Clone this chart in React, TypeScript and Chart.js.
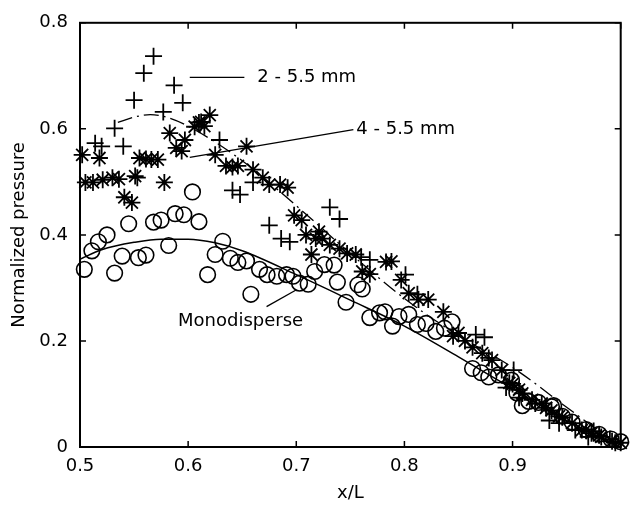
import React, { useEffect, useRef } from 'react';
import { Chart, registerables } from 'chart.js';

Chart.register(...registerables);

// ---- tick values ----
const xTickValues = [0.5, 0.6, 0.7, 0.8, 0.9, 1.0];
const yTickValues = [0, 0.2, 0.4, 0.6, 0.8];

// ---- Monodisperse (circles) ----
const monoX = [
  0.504, 0.511, 0.517, 0.525, 0.532, 0.539, 0.545, 0.554, 0.561, 0.568,
  0.575, 0.582, 0.588, 0.596, 0.604, 0.610, 0.618, 0.625, 0.632, 0.639,
  0.646, 0.654, 0.658, 0.666, 0.673, 0.682, 0.691, 0.697, 0.703, 0.711,
  0.717, 0.726, 0.735, 0.738, 0.746, 0.757, 0.761, 0.768, 0.777, 0.782,
  0.789, 0.795, 0.804, 0.812, 0.820, 0.829, 0.837, 0.844, 0.863, 0.871,
  0.878, 0.887, 0.899, 0.904, 0.909, 0.915, 0.924, 0.936, 0.938, 0.946,
  0.955, 0.968, 0.980, 0.991, 1.0,
];
const monoY = [
  0.335, 0.370, 0.387, 0.400, 0.328, 0.360, 0.421, 0.357, 0.362, 0.424,
  0.428, 0.380, 0.440, 0.438, 0.481, 0.425, 0.325, 0.363, 0.388, 0.356,
  0.348, 0.351, 0.288, 0.335, 0.325, 0.322, 0.325, 0.322, 0.309, 0.307,
  0.331, 0.344, 0.343, 0.311, 0.273, 0.306, 0.298, 0.244, 0.253, 0.255,
  0.228, 0.246, 0.250, 0.231, 0.233, 0.218, 0.224, 0.236, 0.148, 0.140,
  0.132, 0.136, 0.126, 0.102, 0.078, 0.086, 0.084, 0.076, 0.078, 0.058,
  0.047, 0.033, 0.024, 0.015, 0.010,
];

// ---- 2 - 5.5 mm (crosses) ----
const wideX = [
  0.514, 0.520, 0.532, 0.540, 0.550, 0.553, 0.559, 0.568, 0.577, 0.587,
  0.595, 0.629, 0.641, 0.648, 0.660, 0.675, 0.686, 0.694, 0.731, 0.740,
  0.760, 0.768, 0.801, 0.812, 0.866, 0.874, 0.878, 0.894, 0.901, 0.906,
  0.921, 0.934, 0.943, 0.958, 0.970, 0.975, 0.990, 0.995,
];
const wideY = [
  0.573, 0.567, 0.601, 0.567, 0.654, 0.508, 0.705, 0.737, 0.632, 0.682,
  0.649, 0.579, 0.484, 0.476, 0.499, 0.418, 0.393, 0.387, 0.452, 0.430,
  0.358, 0.353, 0.325, 0.288, 0.212, 0.207, 0.168, 0.112, 0.145, 0.093,
  0.082, 0.050, 0.045, 0.032, 0.019, 0.030, 0.015, 0.008,
];

// ---- 4 - 5.5 mm (asterisks) ----
const narrowX = [
  0.502, 0.505, 0.512, 0.518, 0.521, 0.530, 0.536, 0.541, 0.548, 0.551,
  0.555, 0.561, 0.566, 0.572, 0.578, 0.583, 0.589, 0.594, 0.597, 0.606,
  0.610, 0.612, 0.615, 0.620, 0.625, 0.635, 0.641, 0.646, 0.654, 0.660,
  0.669, 0.675, 0.685, 0.692, 0.698, 0.705, 0.709, 0.714, 0.718, 0.721,
  0.724, 0.731, 0.740, 0.747, 0.755, 0.761, 0.768, 0.783, 0.788, 0.797,
  0.804, 0.813, 0.822, 0.836, 0.845, 0.850, 0.856, 0.863, 0.872, 0.881,
  0.890, 0.897, 0.900, 0.906, 0.909, 0.918, 0.927, 0.931, 0.936, 0.943,
  0.946, 0.955, 0.964, 0.968, 0.973, 0.980, 0.982, 0.992, 1.0,
];
const narrowY = [
  0.551, 0.499, 0.499, 0.545, 0.504, 0.508, 0.505, 0.471, 0.461, 0.511,
  0.545, 0.543, 0.542, 0.542, 0.499, 0.592, 0.564, 0.558, 0.579, 0.604,
  0.612, 0.613, 0.605, 0.626, 0.551, 0.530, 0.528, 0.530, 0.567, 0.523,
  0.508, 0.495, 0.495, 0.489, 0.437, 0.428, 0.400, 0.363, 0.393, 0.406,
  0.393, 0.381, 0.374, 0.365, 0.363, 0.331, 0.326, 0.349, 0.350, 0.315,
  0.290, 0.278, 0.278, 0.255, 0.209, 0.215, 0.200, 0.188, 0.177, 0.164,
  0.145, 0.121, 0.119, 0.108, 0.101, 0.089, 0.082, 0.074, 0.069, 0.058,
  0.056, 0.045, 0.032, 0.033, 0.026, 0.022, 0.019, 0.011, 0.008,
];

// ---- fitted curves ----
const monoFitX = [0.5, 0.52, 0.55, 0.575, 0.6, 0.625, 0.65, 0.7, 0.75, 0.8, 0.85, 0.9, 0.95, 1.0];
const monoFitY = [0.354, 0.372, 0.386, 0.392, 0.392, 0.385, 0.37, 0.325, 0.277, 0.228, 0.17, 0.11, 0.05, 0.0];

const wideFitX = [0.535, 0.55, 0.565, 0.58, 0.6, 0.65, 0.7, 0.75, 0.8, 0.85, 0.9, 0.95, 1.0];
const wideFitY = [0.612, 0.622, 0.627, 0.622, 0.605, 0.54, 0.455, 0.365, 0.28, 0.21, 0.15, 0.075, 0.0];

// ---- annotation texts ----
const labelTexts = ['2 - 5.5 mm', '4 - 5.5 mm', 'Monodisperse'];

const FONT = '"DejaVu Sans", "Liberation Sans", Arial, sans-serif';

const toPts = (xs: number[], ys: number[]) => xs.map((x, i) => ({ x, y: ys[i] }));

const annotations = [
  { text: labelTexts[0], x: 0.664, y: 0.697, align: 'left' as CanvasTextAlign, line: [0.6015, 0.697, 0.652, 0.697] },
  { text: labelTexts[1], x: 0.7555, y: 0.600, align: 'left' as CanvasTextAlign, line: [0.6015, 0.5464, 0.7528, 0.5986] },
  { text: labelTexts[2], x: 0.6485, y: 0.237, align: 'center' as CanvasTextAlign, line: [0.6725, 0.2648, 0.7002, 0.2965] },
];

const framePlugin = {
  id: 'frame',
  afterDraw(chart: any) {
    const { ctx, chartArea } = chart;
    const xs = chart.scales.x;
    const ys = chart.scales.y;
    const { left, right, top, bottom } = chartArea;
    ctx.save();
    ctx.strokeStyle = '#000';
    ctx.lineWidth = 2;
    ctx.strokeRect(left, top, right - left, bottom - top);
    ctx.lineWidth = 1.5;
    const tl = 6;
    ctx.beginPath();
    xTickValues.forEach((v) => {
      const px = xs.getPixelForValue(v);
      ctx.moveTo(px, bottom);
      ctx.lineTo(px, bottom - tl);
      ctx.moveTo(px, top);
      ctx.lineTo(px, top + tl);
    });
    yTickValues.forEach((v) => {
      const py = ys.getPixelForValue(v);
      ctx.moveTo(left, py);
      ctx.lineTo(left + tl, py);
      ctx.moveTo(right, py);
      ctx.lineTo(right - tl, py);
    });
    ctx.stroke();

    // annotations
    ctx.lineWidth = 1.3;
    ctx.fillStyle = '#000';
    ctx.font = `18px ${FONT}`;
    ctx.textBaseline = 'middle';
    annotations.forEach((a) => {
      ctx.beginPath();
      ctx.moveTo(xs.getPixelForValue(a.line[0]), ys.getPixelForValue(a.line[1]));
      ctx.lineTo(xs.getPixelForValue(a.line[2]), ys.getPixelForValue(a.line[3]));
      ctx.stroke();
      ctx.textAlign = a.align;
      ctx.fillText(a.text, xs.getPixelForValue(a.x), ys.getPixelForValue(a.y));
    });
    ctx.restore();
  },
};

export default function App() {
  const ref = useRef<HTMLCanvasElement | null>(null);

  useEffect(() => {
    document.body.style.margin = '0';
    const canvas = ref.current;
    if (!canvas) return;
    const markerCommon = {
      showLine: false,
      borderColor: '#000',
      backgroundColor: 'rgba(0,0,0,0)',
      clip: false as any,
    };
    const chart = new Chart(canvas, {
      type: 'scatter',
      data: {
        datasets: [
          {
            label: 'Monodisperse',
            data: toPts(monoX, monoY),
            pointStyle: 'circle',
            pointRadius: 7.8,
            pointBorderWidth: 1.6,
            ...markerCommon,
          },
          {
            label: '2 - 5.5 mm',
            data: toPts(wideX, wideY),
            pointStyle: 'cross',
            pointRadius: 8.5,
            pointBorderWidth: 1.8,
            ...markerCommon,
          },
          {
            label: '4 - 5.5 mm',
            data: toPts(narrowX, narrowY),
            pointStyle: 'star',
            pointRadius: 8.5,
            pointBorderWidth: 1.8,
            ...markerCommon,
          },
          {
            label: 'Monodisperse fit',
            data: toPts(monoFitX, monoFitY),
            showLine: true,
            pointRadius: 0,
            borderColor: '#000',
            borderWidth: 1.5,
            cubicInterpolationMode: 'monotone',
          } as any,
          {
            label: '2 - 5.5 mm fit',
            data: toPts(wideFitX, wideFitY),
            showLine: true,
            pointRadius: 0,
            borderColor: '#000',
            borderWidth: 1.3,
            borderDash: [15, 5, 2, 5],
            cubicInterpolationMode: 'monotone',
          } as any,
        ],
      },
      options: {
        animation: false,
        responsive: false,
        events: [],
        layout: { padding: { top: 18, right: 9, left: 0, bottom: 0 } },
        plugins: {
          legend: { display: false },
          tooltip: { enabled: false },
        },
        scales: {
          x: {
            type: 'linear',
            min: 0.5,
            max: 1.0,
            afterFit: (s: any) => { s.height = 58; },
            afterBuildTicks: (s: any) => { s.ticks = xTickValues.map((v) => ({ value: v })); },
            grid: { display: false, drawTicks: false },
            border: { display: false },
            ticks: {
              padding: 9,
              color: '#000',
              font: { family: FONT, size: 18 },
              maxRotation: 0,
              callback: (v: any) => (Math.abs(v - 1) < 1e-9 ? '' : Number(v).toFixed(1)),
            },
            title: {
              display: true,
              text: 'x/L',
              color: '#000',
              font: { family: FONT, size: 18 },
              padding: { top: 0, bottom: 1 },
            },
          },
          y: {
            type: 'linear',
            min: 0,
            max: 0.8,
            afterFit: (s: any) => { s.width = 80; },
            afterBuildTicks: (s: any) => { s.ticks = yTickValues.map((v) => ({ value: v })); },
            grid: { display: false, drawTicks: false },
            border: { display: false },
            ticks: {
              padding: 12,
              color: '#000',
              font: { family: FONT, size: 18 },
              callback: (v: any) => (Math.abs(v) < 1e-9 ? '0' : Number(v).toFixed(1)),
            },
            title: {
              display: true,
              text: 'Normalized pressure',
              color: '#000',
              font: { family: FONT, size: 18 },
              padding: { top: 9, bottom: 0 },
            },
          },
        },
      } as any,
      plugins: [framePlugin],
    });
    return () => chart.destroy();
  }, []);

  return (
    <canvas
      ref={ref}
      width={631}
      height={505}
      style={{ display: 'block', width: 631, height: 505, background: '#fff' }}
    />
  );
}
